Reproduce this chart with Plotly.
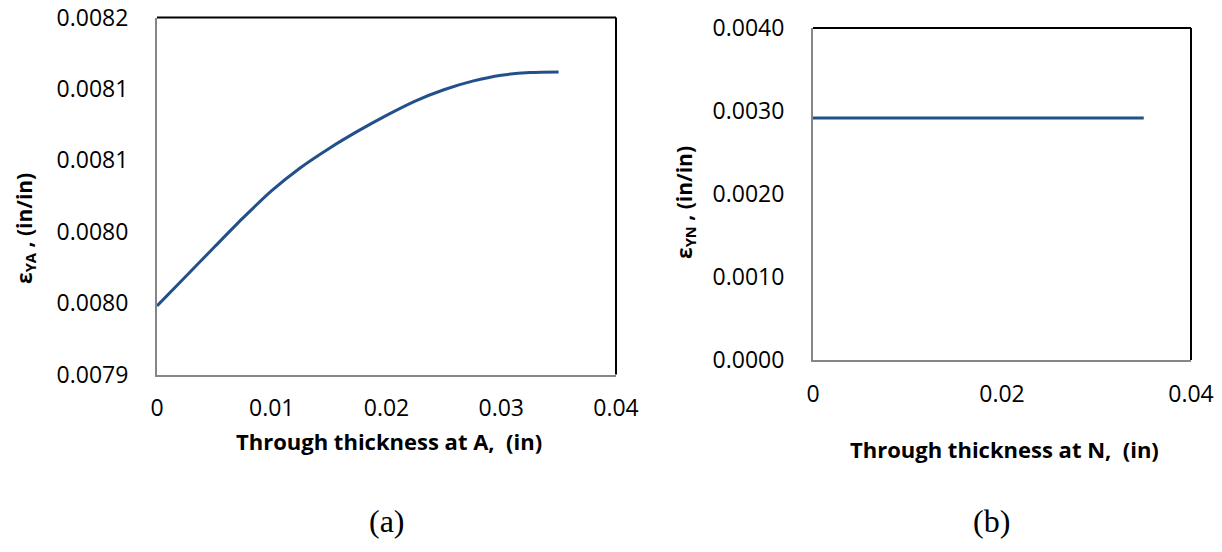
import plotly.graph_objects as go

# Data (a): strain at A through thickness
x_a = [0.0, 0.0025, 0.005, 0.0075, 0.01, 0.0125, 0.015, 0.0175, 0.02, 0.0225,
       0.025, 0.0275, 0.03, 0.0325, 0.035]
eps_ya = [0.0079577, 0.0079824, 0.0080071, 0.0080316, 0.0080545, 0.0080738,
          0.0080900, 0.0081045, 0.0081178, 0.0081298, 0.0081393, 0.0081465,
          0.0081515, 0.0081537, 0.0081542]

# Data (b): strain at N through thickness
x_n = [0.0, 0.035]
eps_yn = [0.002916, 0.002916]

LINE_COLOR = "#22508A"
TICK_FONT = dict(family="Open Sans", size=23, color="black")

fig = go.Figure()
fig.add_trace(go.Scatter(x=x_a, y=eps_ya, mode="lines", xaxis="x", yaxis="y",
                         line=dict(color=LINE_COLOR, width=3, shape="spline", smoothing=0.8),
                         showlegend=False, hoverinfo="skip"))
fig.add_trace(go.Scatter(x=x_n, y=eps_yn, mode="lines", xaxis="x2", yaxis="y2",
                         line=dict(color=LINE_COLOR, width=3),
                         showlegend=False, hoverinfo="skip"))

W, H = 1222, 552
# pixel-derived domains
l_x0, l_x1, l_ytop, l_ybot = 157, 616, 17.5, 374.5
r_x0, r_x1, r_ytop, r_ybot = 813, 1191, 28, 360

def xd(a, b):
    return [a / W, b / W]

def yd(top, bot):
    return [1 - bot / H, 1 - top / H]

axis_common = dict(showgrid=False, zeroline=False, showline=True,
                   linecolor="#868686", linewidth=2, ticks="",
                   tickfont=TICK_FONT, fixedrange=True, automargin=False)

fig.update_layout(
    width=W, height=H, autosize=False,
    margin=dict(l=0, r=0, t=0, b=0, pad=0),
    paper_bgcolor="white", plot_bgcolor="white",
    xaxis=dict(domain=xd(l_x0, l_x1), anchor="y", range=[0, 0.04],
               tick0=0, dtick=0.01, ticklabelstandoff=12, **axis_common),
    yaxis=dict(domain=yd(l_ytop, l_ybot), anchor="x", range=[0.0079, 0.0082],
               tick0=0.0079, dtick=0.00006, tickformat=".4f",
               ticklabelstandoff=22, **axis_common),
    xaxis2=dict(domain=xd(r_x0, r_x1), anchor="y2", range=[0, 0.04],
                tick0=0, dtick=0.02, ticklabelstandoff=12, **axis_common),
    yaxis2=dict(domain=yd(r_ytop, r_ybot), anchor="x2", range=[0, 0.004],
                tick0=0, dtick=0.001, tickformat=".4f",
                ticklabelstandoff=22, **axis_common),
)

# top and right borders in black
for xr, yr in [("x", "y"), ("x2", "y2")]:
    fig.add_shape(type="line", xref=f"{xr} domain", yref=f"{yr} domain",
                  x0=0, x1=1, y0=1, y1=1, line=dict(color="black", width=2))
    fig.add_shape(type="line", xref=f"{xr} domain", yref=f"{yr} domain",
                  x0=1, x1=1, y0=0, y1=1, line=dict(color="black", width=2))

def ann(text, px, py, font, angle=0):
    fig.add_annotation(text=text, x=px / W, y=1 - py / H, xref="paper", yref="paper",
                       showarrow=False, font=font, textangle=angle,
                       xanchor="center", yanchor="middle")

BOLD = dict(family="Open Sans", size=22, color="black", weight="bold")
BOLD_Y = dict(family="Open Sans", size=21, color="black", weight="bold")
ann("Through thickness at A,  (in)", 389, 441, BOLD)
ann("Through thickness at N,  (in)", 1004, 449, BOLD)
ann("ε<sub>YA</sub> , (in/in)", 25, 229, BOLD_Y, angle=-90)
ann("ε<sub>YN</sub> , (in/in)", 685, 203, BOLD_Y, angle=-90)

SERIF = dict(family="Liberation Serif", size=32, color="black")
ann("(a)", 387, 521, SERIF)
ann("(b)", 991, 521, SERIF)

fig.write_html("out.html")
